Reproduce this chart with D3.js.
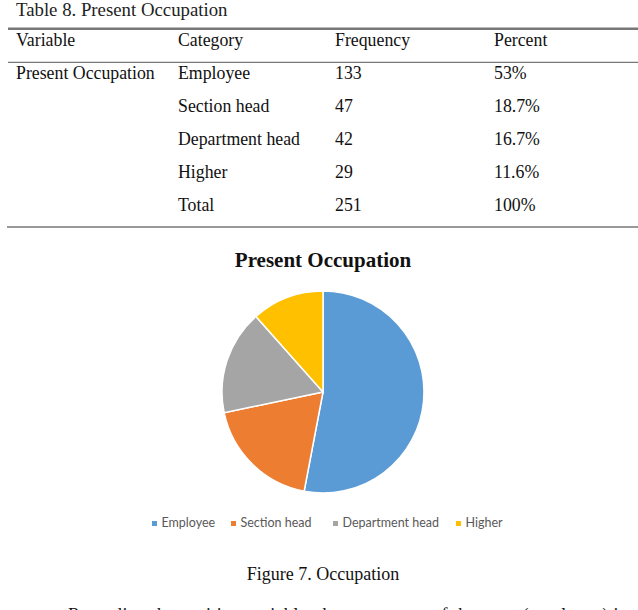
<!DOCTYPE html>
<html>
<head>
<meta charset="utf-8">
<script src="https://cdn.jsdelivr.net/npm/d3@7/dist/d3.min.js"></script>
<style>
  html, body { margin: 0; padding: 0; background: #fff; }
  svg { display: block; }
</style>
</head>
<body>
<svg id="chart" width="638" height="610"></svg>
<script>
// ---- Data ----
const tableTitle = "Table 8. Present Occupation";
const headers = ["Variable", "Category", "Frequency", "Percent"];
const variableName = "Present Occupation";
const categories = ["Employee", "Section head", "Department head", "Higher"];
const frequencies = [133, 47, 42, 29];
const percents = ["53%", "18.7%", "16.7%", "11.6%"];
const totalLabel = "Total";
const totalFrequency = 251;
const totalPercent = "100%";
const chartTitle = "Present Occupation";
const colors = ["#5B9BD5", "#ED7D31", "#A5A5A5", "#FFC000"];
const figureCaption = "Figure 7. Occupation";
const bodyText = "Regarding the position variable, the percentage of the team (employee) is";

// ---- Layout ----
const svg = d3.select("#chart");
const serif = "'Liberation Serif', 'Times New Roman', serif";
const sans = "Lato, 'Open Sans', 'Liberation Sans', sans-serif";

// Table title
svg.append("text").attr("x", 16).attr("y", 15.5)
  .attr("font-family", serif).attr("font-size", 18.8).attr("fill", "#222")
  .text(tableTitle);

// Rules
svg.append("line").attr("x1", 8).attr("x2", 638).attr("y1", 28.7).attr("y2", 28.7)
  .attr("stroke", "#777").attr("stroke-width", 2.5);
svg.append("line").attr("x1", 8).attr("x2", 638).attr("y1", 62.3).attr("y2", 62.3)
  .attr("stroke", "#777").attr("stroke-width", 1.2);
svg.append("line").attr("x1", 7).attr("x2", 638).attr("y1", 227).attr("y2", 227)
  .attr("stroke", "#777").attr("stroke-width", 1.5);

const colX = [16, 178, 335, 494];
const tableText = (x, y, t) => svg.append("text").attr("x", x).attr("y", y)
  .attr("font-family", serif).attr("font-size", 17.8).attr("fill", "#111").text(t);

headers.forEach((h, i) => tableText(colX[i], 46, h));

const rowY = d3.scaleLinear().domain([0, 1]).range([79, 112]);
tableText(colX[0], rowY(0), variableName);
categories.forEach((c, i) => {
  tableText(colX[1], rowY(i), c);
  tableText(colX[2], rowY(i), frequencies[i]);
  tableText(colX[3], rowY(i), percents[i]);
});
tableText(colX[1], rowY(4), totalLabel);
tableText(colX[2], rowY(4), totalFrequency);
tableText(colX[3], rowY(4), totalPercent);

// Chart title
svg.append("text").attr("x", 323).attr("y", 267).attr("text-anchor", "middle")
  .attr("font-family", serif).attr("font-size", 21).attr("font-weight", "bold")
  .attr("fill", "#111").text(chartTitle);

// Pie
const cx = 323, cy = 392, r = 101;
const pie = d3.pie().sort(null).value(d => d.v);
const arc = d3.arc().innerRadius(0).outerRadius(r);
const pieData = pie(categories.map((c, i) => ({ c, v: frequencies[i] })));
const color = d3.scaleOrdinal().domain(categories).range(colors);
svg.append("g").attr("transform", `translate(${cx},${cy})`)
  .selectAll("path").data(pieData).join("path")
  .attr("d", arc)
  .attr("fill", d => color(d.data.c))
  .attr("stroke", "#fff").attr("stroke-width", 1.5);

// Legend
const legendX = [152, 231, 333, 456];
const lg = svg.append("g");
categories.forEach((c, i) => {
  lg.append("rect").attr("x", legendX[i]).attr("y", 521).attr("width", 5).attr("height", 5)
    .attr("fill", color(c));
  lg.append("text").attr("x", legendX[i] + 9.5).attr("y", 527)
    .attr("font-family", sans).attr("font-size", 12.5).attr("fill", "#595959").text(c);
});

// Figure caption
svg.append("text").attr("x", 323).attr("y", 580).attr("text-anchor", "middle")
  .attr("font-family", serif).attr("font-size", 18).attr("fill", "#111").text(figureCaption);

// Body text (cut off at the bottom, as in the source page)
svg.append("text").attr("x", 68).attr("y", 620.5)
  .attr("font-family", serif).attr("font-size", 18).attr("fill", "#111")
  .attr("textLength", 558).attr("lengthAdjust", "spacing")
  .text(bodyText);
</script>
</body>
</html>
